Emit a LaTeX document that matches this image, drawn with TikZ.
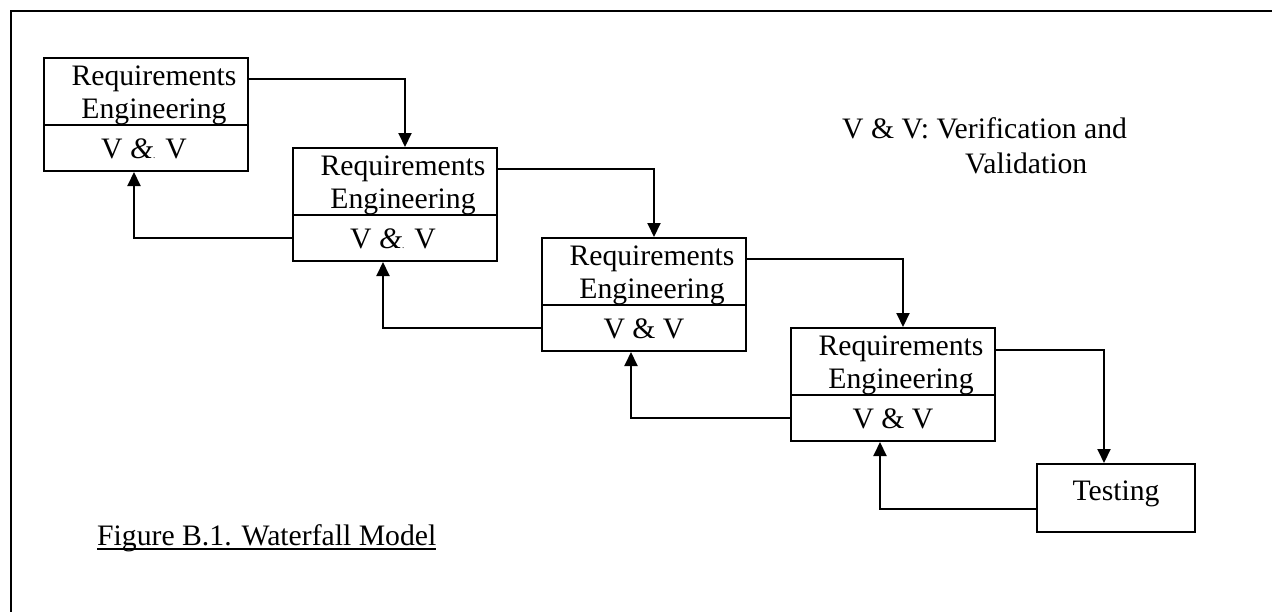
\documentclass[tikz,border=0pt]{standalone}
\usepackage{fontspec}
\setmainfont{Liberation Serif}
\usetikzlibrary{calc,arrows.meta}

\tikzset{
  stage/.style={draw, line width=2pt, inner sep=0pt, anchor=north west},
  phase/.style={stage, minimum width=204pt, minimum height=113pt},
  rule/.style={line width=2pt},
  lbl/.style={inner sep=0pt, font=\fontsize{29.7}{34}\selectfont},
  flow/.style={line width=2pt, -{Triangle[length=14pt,width=13pt]}},
}
% italic ampersand with the stray dot of the first two stages
\newcommand{\vvslant}{V \textit{\&}{\fontsize{9}{9}\selectfont.} V}

\begin{document}
\begin{tikzpicture}[x=1pt,y=-1pt]
  \useasboundingbox (0,0) rectangle (1272,611);

  % outer frame (only top and left edges fall inside the page)
  \draw[line width=2pt] (11,640) -- (11,11) -- (1300,11);

  % four phases, each split into an upper and a lower part
  \node[phase] (s1) at (43,57) {};
  \node[phase] (s2) at (292,147) {};
  \node[phase] (s3) at (541,237) {};
  \node[phase] (s4) at (790,327) {};
  \foreach \s in {1,2,3,4} {
    \draw[rule] ($(s\s.north west)+(0,68)$) -- ($(s\s.north east)+(0,68)$);
    \coordinate (lw\s) at ($(s\s.north west)+(0,91)$);
    \node[lbl, anchor=base] (req\s) at ($(s\s.north)+(8,28)$) {Requirements};
    \node[lbl, anchor=base] (eng\s) at ($(s\s.north)+(8,61)$) {Engineering};
  }
  \node[lbl, anchor=base] (vv1) at ($(s1.north)+(-2,101)$) {\vvslant};
  \node[lbl, anchor=base] (vv2) at ($(s2.north)+(-2,101)$) {\vvslant};
  \node[lbl, anchor=base] (vv3) at ($(s3.north)+(0,101)$) {V \& V};
  \node[lbl, anchor=base] (vv4) at ($(s4.north)+(0,101)$) {V \& V};

  % testing
  \node[stage, minimum width=158pt, minimum height=68pt] (t) at (1036,463) {};
  \node[lbl, anchor=base] (test) at ($(t.north)+(0,37)$) {Testing};

  % forward flow
  \draw[flow] ($(s1.north east)+(0,22)$) -| ($(s2.north)+(10,0)$);
  \draw[flow] ($(s2.north east)+(0,22)$) -| ($(s3.north)+(10,0)$);
  \draw[flow] ($(s3.north east)+(0,22)$) -| ($(s4.north)+(10,0)$);
  \draw[flow] ($(s4.north east)+(0,23)$) -| ($(t.north)+(-12,0)$);

  % feedback flow
  \draw[flow] (lw2) -| ($(s1.south)+(-12,0)$);
  \draw[flow] (lw3) -| ($(s2.south)+(-12,0)$);
  \draw[flow] (lw4) -| ($(s3.south)+(-13,0)$);
  \draw[flow] ($(t.west)+(0,11)$) -| ($(s4.south)+(-13,0)$);

  % legend
  \node[lbl, anchor=base west] (leg1) at (842,138) {V \& V: Verification and};
  \node[lbl, anchor=base west] (leg2) at (965,173) {Validation};

  % caption
  \node[lbl, anchor=base west] (cap) at (97,545) {Figure B.1. Waterfall Model};
  \draw[rule] ($(cap.base west)+(0,4)$) -- ($(cap.base east)+(0,4)$);
\end{tikzpicture}
\end{document}
